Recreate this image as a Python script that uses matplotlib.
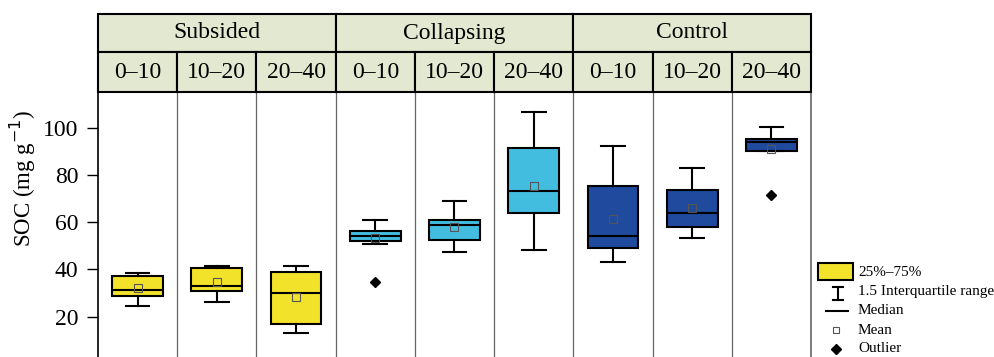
import matplotlib
matplotlib.use("Agg")
import matplotlib.pyplot as plt
from matplotlib.patches import Rectangle
from matplotlib.lines import Line2D

plt.rcParams['font.family'] = ['Liberation Serif', 'DejaVu Serif']

# Groups and soil depth classes (cm)
groups = ["Subsided", "Collapsing", "Control"]
depths = ["0–10", "10–20", "20–40"]
group_colors = ["#F2E229", "#42BDE0", "#1F4A9E"]

# Box-plot summaries of SOC (mg g-1), one entry per group x depth
whisker_low = [24.5, 26.3, 13.1, 50.7, 47.3, 48.4, 43.1, 53.4, 90.3]
q1 = [28.7, 31.0, 17.1, 52.1, 52.5, 63.8, 49.1, 58.1, 90.3]
median = [31.5, 33.2, 30.1, 54.3, 58.6, 73.2, 54.2, 63.9, 93.8]
q3 = [37.3, 40.5, 39.1, 56.2, 60.8, 91.5, 75.3, 73.5, 95.1]
whisker_high = [38.4, 41.6, 41.6, 61.1, 69.0, 106.5, 92.3, 83.1, 100.3]
mean = [32.1, 34.5, 28.5, 53.1, 58.1, 75.3, 61.4, 66.0, 91.1]
outliers = [[], [], [], [34.8], [], [], [], [], [71.5]]

y_ticks = [20, 40, 60, 80, 100]

W, H = 995, 357
fig = plt.figure(figsize=(W / 100, H / 100), dpi=100)

x_left, x_right = 98, 811
y_head_top, y_head_mid, y_plot_top = 14, 52, 92

ax = fig.add_axes([x_left / W, 0, (x_right - x_left) / W, (H - y_plot_top) / H])
n = len(median)
positions = list(range(1, n + 1))

stats = []
for i in range(n):
    stats.append(dict(whislo=whisker_low[i], q1=q1[i], med=median[i], q3=q3[i],
                      whishi=whisker_high[i], mean=mean[i], fliers=outliers[i]))

bp = ax.bxp(stats, positions=positions, widths=0.64, showmeans=True,
            patch_artist=True, showfliers=True,
            boxprops=dict(edgecolor="black", linewidth=1.5),
            medianprops=dict(color="black", linewidth=1.5),
            whiskerprops=dict(color="black", linewidth=1.5),
            capprops=dict(color="black", linewidth=1.5),
            meanprops=dict(marker="s", markersize=5.5, markerfacecolor="none",
                           markeredgecolor="#555555", markeredgewidth=0.8),
            flierprops=dict(marker="D", markersize=5, markerfacecolor="black",
                            markeredgecolor="black"))
for cap in bp["caps"]:
    x0, x1 = cap.get_xdata()
    c = (x0 + x1) / 2
    cap.set_xdata([c - 0.15, c + 0.15])
for i, box in enumerate(bp["boxes"]):
    box.set_facecolor(group_colors[i // 3])

for x in range(1, n):
    ax.axvline(x + 0.5, color="#666666", linewidth=0.9, zorder=0)

ax.set_xlim(0.5, n + 0.5)
ax.set_ylim(2.94, 115.1)
ax.set_xticks([])
ax.set_yticks(y_ticks)
ax.tick_params(axis="y", direction="out", length=8, width=1.0, labelsize=17, pad=6)
ax.spines["bottom"].set_visible(False)
ax.spines["top"].set_visible(False)
ax.spines["left"].set_color("black")
ax.spines["left"].set_linewidth(1.2)
ax.spines["right"].set_color("#666666")
ax.spines["right"].set_linewidth(1.2)
ax.set_ylabel("SOC (mg g$^{-1}$)", fontsize=16.5, va="center")
ax.yaxis.set_label_coords(-0.105, 0.675)

# Header strips: group names on top, depth classes below
hax = fig.add_axes([x_left / W, (H - y_plot_top) / H, (x_right - x_left) / W,
                    (y_plot_top - y_head_top) / H])
hax.set_xlim(0.5, n + 0.5)
hax.set_ylim(y_plot_top, y_head_top)
hax.axis("off")
header_fill = "#E2E9D0"
for g, name in enumerate(groups):
    x0 = 0.5 + 3 * g
    hax.add_patch(Rectangle((x0, y_head_top), 3, y_head_mid - y_head_top,
                            facecolor=header_fill, edgecolor="black", linewidth=1.5,
                            clip_on=False))
    hax.text(x0 + 1.5, (y_head_top + y_head_mid) / 2, name, ha="center", va="center",
             fontsize=17)
for i in range(n):
    hax.add_patch(Rectangle((i + 0.5, y_head_mid), 1, y_plot_top - y_head_mid,
                            facecolor=header_fill, edgecolor="black", linewidth=1.5,
                            clip_on=False))
    hax.text(i + 1, (y_head_mid + y_plot_top) / 2 + 1, depths[i % 3], ha="center",
             va="center", fontsize=17)

# Key
lax = fig.add_axes([810 / W, 0, (W - 810) / W, (H - 255) / H])
lax.set_xlim(810, W)
lax.set_ylim(H, 255)
lax.axis("off")
lax.add_patch(Rectangle((818, 263), 35, 17, facecolor=group_colors[0],
                        edgecolor="black", linewidth=1.5))
lax.add_line(Line2D([838, 838], [287, 300], color="black", linewidth=1.5))
lax.add_line(Line2D([833, 843], [287, 287], color="black", linewidth=1.5))
lax.add_line(Line2D([833, 843], [300, 300], color="black", linewidth=1.5))
lax.add_line(Line2D([826, 848], [311, 311], color="black", linewidth=1.5))
lax.plot([836], [330], marker="s", markersize=5, markerfacecolor="none",
         markeredgecolor="#555555", markeredgewidth=0.8)
lax.plot([836], [349], marker="D", markersize=5, color="black")
key_labels = ["25%–75%", "1.5 Interquartile range", "Median", "Mean", "Outlier"]
key_y = [272, 292, 311, 330, 349]
for lbl, yy in zip(key_labels, key_y):
    lax.text(858, yy, lbl, ha="left", va="center", fontsize=11)

fig.savefig("out.png", dpi=100)
